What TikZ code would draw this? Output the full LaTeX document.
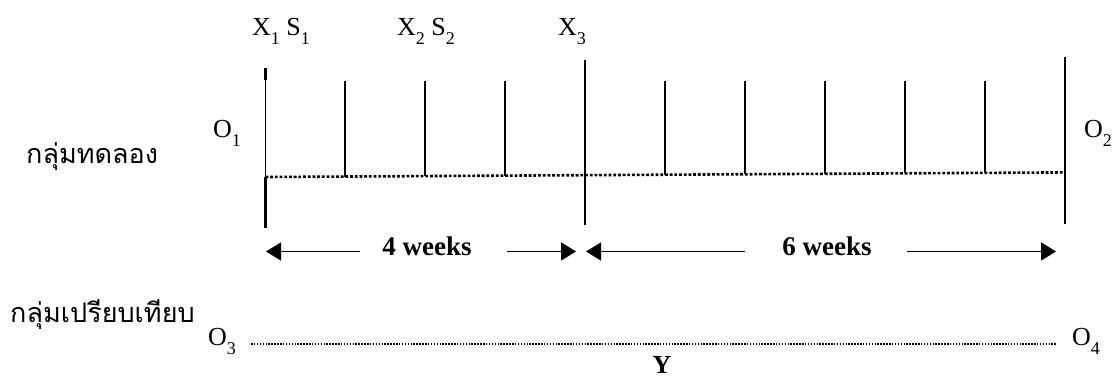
\documentclass[tikz,border=0pt]{standalone}
\usepackage{fontspec}
\setmainfont{Liberation Serif}
\newfontfamily\thaifont[Script=Thai]{Loma}
\usetikzlibrary{arrows.meta}
\newcommand\sbs[1]{\raisebox{-9pt}{\fontsize{18}{18}\selectfont #1}}
\tikzset{
  lbl/.style={inner sep=0pt, font=\fontsize{26}{28}\selectfont},
  thai/.style={inner sep=0pt, font=\thaifont\fontsize{27}{30}\selectfont},
  wk/.style={inner sep=0pt, font=\bfseries\fontsize{27}{30}\selectfont},
  tick/.style={line width=1.8pt},
  bar/.style={line width=2.6pt},
  thinbar/.style={line width=0.8pt},
  dotline/.style={line width=2.6pt, dash pattern=on 2.8pt off 1.9pt},
  fineline/.style={line width=1.4pt, dash pattern=on 1.5pt off 1.4pt},
  arr/.style={line width=1.8pt, -{Triangle[length=15pt,width=18pt]}}
}
\begin{document}
\begin{tikzpicture}[x=1pt,y=-1pt]
\useasboundingbox (0,0) rectangle (1113,378);
% labels top
\node[lbl, anchor=base west] (x1) at (252,35) {X\sbs{1} S\sbs{1}};
\node[lbl, anchor=base west] (x2) at (397,35) {X\sbs{2} S\sbs{2}};
\node[lbl, anchor=base west] (x3) at (558,35) {X\sbs{3}};
% group labels
\node[thai, anchor=base west] (g1) at (26,163) {กลุ่มทดลอง};
\node[thai, anchor=base west] (g2) at (10,322) {กลุ่มเปรียบเทียบ};
\node[lbl, anchor=base west] (o1) at (213,137) {O\sbs{1}};
\node[lbl, anchor=base west] (o2) at (1084,137) {O\sbs{2}};
\node[lbl, anchor=base west] (o3) at (208,345) {O\sbs{3}};
\node[lbl, anchor=base west] (o4) at (1072,345) {O\sbs{4}};
\node[inner sep=0pt, anchor=north, font=\bfseries\fontsize{26}{28}\selectfont] (y) at (662,356) {Y};
% coordinates
\coordinate (Lt) at (265.5,68);
\coordinate (Lm1) at (265.5,80);
\coordinate (Lm2) at (265.5,177);
\coordinate (Lb) at (265.5,228);
\coordinate (Mt) at (585,60);
\coordinate (Mb) at (585,225);
\coordinate (Rt) at (1065,57);
\coordinate (Rb) at (1065,224);
% bars
\draw[bar] (Lt) -- (Lm1);
\draw[thinbar] (Lm1) -- (Lm2);
\draw[bar] (Lm2) -- (Lb);
\draw[bar] (Mt) -- (Mb);
\draw[bar] (Rt) -- (Rb);
% ticks
\foreach \x/\yb in {345/176.6,425/176.1,505/175.6,665/174.6,745/174.1,825/173.6,905/173.1,985/172.6}
  \draw[tick] (\x,81) -- (\x,\yb);
% dotted line
\coordinate (D0) at (265.5,177);
\coordinate (D1) at (1065,172.4);
\draw[dotline] (D0) -- (D1);
% comparison line
\coordinate (C0) at (251,344);
\coordinate (C1) at (1056,344);
\draw[fineline] (C0) -- (C1);
% arrows
\node[wk, anchor=base] (w4) at (427,255) {4 weeks};
\node[wk, anchor=base] (w6) at (827,255) {6 weeks};
\coordinate (a1) at (360,251.5);
\coordinate (a1t) at (266,251.5);
\coordinate (a2) at (507,251.5);
\coordinate (a2t) at (576,251.5);
\coordinate (a3) at (745,251.5);
\coordinate (a3t) at (586,251.5);
\coordinate (a4) at (907,251.5);
\coordinate (a4t) at (1056,251.5);
\draw[arr] (a1) -- (a1t);
\draw[arr] (a2) -- (a2t);
\draw[arr] (a3) -- (a3t);
\draw[arr] (a4) -- (a4t);
\end{tikzpicture}
\end{document}
